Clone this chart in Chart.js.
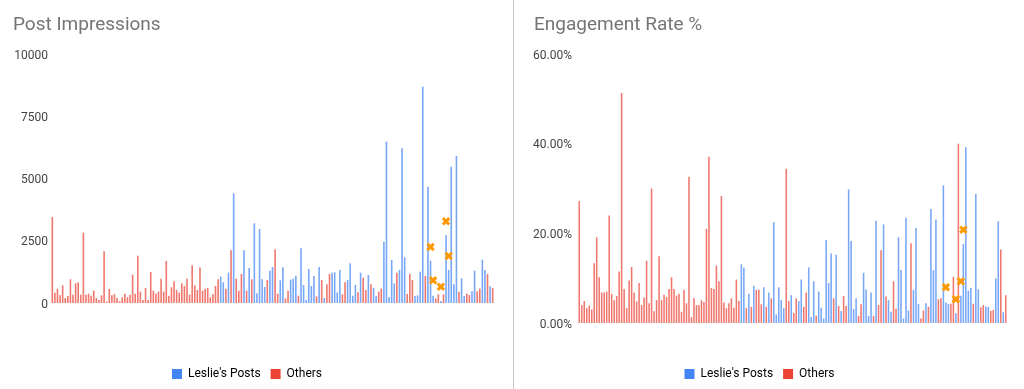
<!DOCTYPE html>
<html>
<head>
<title>Post Impressions / Engagement Rate</title>
<script src="https://cdn.jsdelivr.net/npm/chart.js"></script>
<style>
  body { margin: 0; background: #fff; font-family: Roboto, "Liberation Sans", Arial, sans-serif; }
  #page { position: relative; width: 1024px; height: 389px; overflow: hidden; }
  .box { position: absolute; top: 0; width: 512px; height: 390px; }
  .title { position: absolute; top: 12px; font-size: 19px; line-height: 23px; color: #757575; }
  #divider { position: absolute; left: 513px; top: 0; width: 1px; height: 389px; background: #c8c8c8; }
</style>
</head>
<body>
<div id="page">
  <div class="box" style="left:0"><canvas id="impChart" width="512" height="390"></canvas></div>
  <div class="box" style="left:512px"><canvas id="rateChart" width="512" height="390"></canvas></div>
  <div class="title" style="left:13px">Post Impressions</div>
  <div class="title" style="left:534px">Engagement Rate %</div>
  <div id="divider"></div>
</div>

<script>
// series names
const seriesNames = ["Leslie's Posts", "Others"];

// Post Impressions, one value per post, in order; owner L = Leslie, O = others
const impValues = [
  3450, 415, 576, 308, 710, 200, 281, 951, 335, 790,
  830, 335, 2825, 335, 375, 295, 495, 200, 120, 308,
  2075, 54, 562, 308, 360, 200, 67, 228, 375, 228,
  335, 1138, 375, 1900, 455, 120, 600, 120, 1245, 495,
  375, 455, 977, 455, 1687, 295, 630, 870, 522, 415,
  790, 683, 977, 335, 1513, 710, 522,
  1430, 495, 576, 603, 228, 348, 683, 951, 1058, 830,
  576, 1218, 2115, 4405, 977, 495, 1165, 2115, 495, 1406,
  951, 3200, 388, 2973, 951, 643, 924, 1299, 1446, 2156,
  375, 910, 1433, 187, 495, 937, 977, 1098, 295, 2196,
  723, 120, 1366, 683, 1085, 268, 1446, 924, 200, 750,
  1165, 1218, 1232, 428, 1325, 348, 830, 924,
  1593, 295, 723, 428, 1218, 1018, 522, 1125, 750, 603,
  281, 455, 576, 2464, 6481, 228, 1727, 790, 1218, 1325,
  6213, 1834, 362, 1178, 924, 281, 308, 1259, 8690, 1085,
  4673, 1700, 295, 187, 348, 80, 348, 2718, 1325, 5477,
  750, 5905, 455, 991, 281, 375, 321, 469, 1299, 469,
  576, 1741, 1325, 1165, 670, 603
];
const impOwner =
  "OOOOOOOOOOOOOOOOOOOOOOOOOOOOOOOOOOOOOOOOOOOOOOOOOOOOOOOOO" +
  "OOOOOOOOLLOLOLOOOLOLOLLLLLOLLOOLLOOLLLOLLLLLLOLOLOOLLLLOOL" +
  "LLLOLOOLOLLOOLLLLLOLLLOOOLLLLOLLLOOLOLLLLLOLLOOLLOOLLOLO";
// highlighted posts (orange markers)
const impMarkIdx = [146, 147, 150, 152, 153];
const impMarkVal = [2250, 910, 656, 3280, 1888];
const impTicks = [0, 2500, 5000, 7500, 10000];

// Engagement Rate %, same posts
const rateValues = [
  27.2, 4.0, 4.9, 3.3, 3.9, 3.0, 13.3, 19.1, 10.2, 6.8,
  6.8, 7.0, 24.0, 6.5, 5.1, 6.0, 11.5, 51.3, 7.6, 3.3,
  9.5, 12.5, 6.8, 4.8, 8.9, 4.0, 5.7, 13.9, 4.4, 30.0,
  2.6, 5.1, 14.9, 5.1, 6.3, 5.8, 7.6, 10.2, 7.6, 6.1,
  6.5, 2.5, 7.4, 4.4, 32.6, 1.3, 5.6, 4.0, 4.0, 5.1,
  4.7, 21.0, 37.1, 7.8, 7.6, 12.8, 9.3, 28.3, 4.6,
  3.3, 4.4, 5.5, 3.4, 9.7, 4.9, 13.1, 12.4, 3.3, 6.5,
  3.6, 8.3, 7.4, 7.4, 4.2, 8.0, 3.6, 6.8, 5.5, 22.5,
  1.9, 8.0, 5.1, 3.3, 34.4, 4.9, 6.2, 2.2, 5.5, 4.9,
  9.7, 3.6, 6.8, 12.4, 1.3, 9.3, 1.6, 7.0, 3.4, 1.0,
  18.5, 8.9, 15.5, 5.5, 15.2, 3.8, 2.7, 6.0, 3.8, 29.8,
  18.3, 3.1, 5.5, 1.6, 4.2, 11.2, 7.5, 1.6, 6.8,
  1.6, 22.8, 4.0, 16.2, 22.0, 5.9, 5.1, 2.5, 9.3, 3.2,
  19.1, 11.8, 1.0, 23.5, 2.8, 17.8, 7.4, 21.2, 4.2, 1.0,
  2.8, 4.4, 3.6, 25.4, 11.8, 23.1, 5.3, 5.5, 30.7, 4.6,
  4.2, 4.3, 10.3, 2.2, 40.0, 6.1, 17.6, 39.2, 7.2, 7.8,
  4.3, 28.8, 7.5, 3.5, 4.0, 3.7, 3.6, 2.7, 2.9, 9.9,
  22.7, 16.4, 2.4, 6.2
];
const rateOwner =
  "OOOOOOOOOOOOOOOOOOOOOOOOOOOOOOOOOOOOOOOOOOOOOOOOOOOOOOOOOOO" +
  "OOOOOOLLOLOLOOOLOLOLLLLLOOLOOLLOOLLLOLLLLLLOLOLOOLLLLOOLLLL" +
  "OLOOLOLLOOLLLLLOLLLOOLOLLLOOLLLOOLOLLLLLOLLOOLLOOLLOLO";
const rateMarkIdx = [147, 151, 153, 154];
const rateMarkVal = [8.0, 5.3, 9.3, 20.8];
const rateTicks = [0, 20, 40, 60];

const blue = '#4285f4', red = '#ea4335', orange = '#ff9900';
const blueBar = 'rgba(66,133,244,0.72)', redBar = 'rgba(234,67,53,0.72)';
const fontFamily = 'Roboto, "Liberation Sans", Arial, sans-serif';

function split(values, owner, who) {
  return values.map((v, i) => owner[i] === who ? v : null);
}
function marks(n, idx, vals) {
  const out = new Array(n).fill(null);
  idx.forEach((k, j) => { out[k] = vals[j]; });
  return out;
}

function makeChart(id, values, owner, markIdx, markVal, ticks, opts) {
  const labels = values.map((_, i) => String(i + 1));
  return new Chart(document.getElementById(id), {
    type: 'bar',
    data: {
      labels: labels,
      datasets: [
        { label: seriesNames[0], data: split(values, owner, 'L'), backgroundColor: blueBar, legendColor: blue,
          borderWidth: 0, grouped: false, barPercentage: 0.62, categoryPercentage: 1 },
        { label: seriesNames[1], data: split(values, owner, 'O'), backgroundColor: redBar, legendColor: red,
          borderWidth: 0, grouped: false, barPercentage: 0.62, categoryPercentage: 1 },
        { type: 'line', label: 'marks', data: marks(values.length, markIdx, markVal), showLine: false,
          pointStyle: 'crossRot', pointRadius: 4.5, pointBorderWidth: 3, borderColor: orange,
          backgroundColor: orange, order: -1 }
      ]
    },
    options: {
      responsive: false,
      animation: false,
      layout: { padding: { left: 0, right: opts.padRight, top: 54, bottom: 0 } },
      plugins: {
        tooltip: { enabled: false },
        title: { display: false },
        legend: {
          position: 'bottom',
          labels: {
            boxWidth: 10, boxHeight: 10, padding: 10, color: '#222',
            font: { family: fontFamily, size: 12 },
            filter: item => item.text !== 'marks',
            generateLabels: chart => chart.data.datasets.map((ds, i) => ({
              text: ds.label, fillStyle: ds.legendColor || ds.borderColor,
              strokeStyle: ds.legendColor || ds.borderColor, lineWidth: 0, datasetIndex: i, hidden: false
            }))
          }
        }
      },
      scales: {
        x: {
          grid: { display: false, drawTicks: false },
          border: { display: false },
          ticks: { display: false },
          afterFit: s => { s.height = opts.xHeight; }
        },
        y: {
          min: ticks[0], max: ticks[ticks.length - 1],
          afterBuildTicks: s => { s.ticks = ticks.map(v => ({ value: v })); },
          grid: { display: false, drawTicks: false },
          border: { display: false },
          ticks: {
            padding: opts.tickPad, color: '#444', labelOffset: 1.5,
            font: { family: fontFamily, size: 12 },
            callback: opts.fmt
          },
          afterFit: s => { s.width = opts.yWidth; }
        }
      }
    }
  });
}

makeChart('impChart', impValues, impOwner, impMarkIdx, impMarkVal, impTicks,
  { padRight: 18, xHeight: 55, yWidth: 51, tickPad: 3, fmt: v => String(v) });
makeChart('rateChart', rateValues, rateOwner, rateMarkIdx, rateMarkVal, rateTicks,
  { padRight: 17, xHeight: 35, yWidth: 66, tickPad: 6, fmt: v => v.toFixed(2) + '%' });
</script>
</body>
</html>
